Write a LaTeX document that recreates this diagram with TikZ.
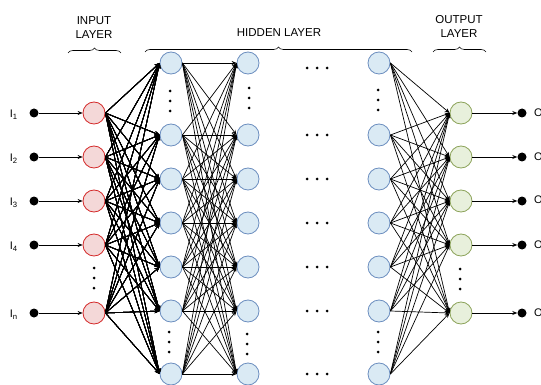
\documentclass[tikz,border=0pt]{standalone}
\usepackage{fontspec}
\setmainfont{Liberation Sans}
\usepackage{tikz}
\usetikzlibrary{arrows.meta,decorations.pathreplacing}
\definecolor{inBorder}{HTML}{D42A2A}
\definecolor{inFill}{HTML}{F4D8D8}
\definecolor{hidBorder}{HTML}{6C8EBF}
\definecolor{hidFill}{HTML}{DAEAF4}
\definecolor{outBorder}{HTML}{8CA35A}
\definecolor{outFill}{HTML}{E8F0DC}
\tikzset{
  neuron/.style = {circle, inner sep=0pt, minimum size=22pt,
    line width=0.8pt},
  n_in/.style = {neuron, draw=inBorder, fill=inFill},% input neuron
  n_hid/.style = {neuron, draw=hidBorder, fill=hidFill},% hidden neuron
  n_out/.style = {neuron, draw=outBorder, fill=outFill},% output neuron
  term/.style = {circle, fill=black, inner sep=0pt, minimum size=9pt},
  wire/.style = {-{Stealth[length=5pt,width=4pt]}, line width=0.7pt},
  layerbrace/.style = {decorate, line width=0.6pt,
    decoration={brace, amplitude=5pt}},
  caption/.style = {font=\fontsize{11.5}{14}\selectfont, align=center}
}
\newcommand{\vdotsat}[2]{% three dots, top one at (#1,#2)
  \foreach \k in {0,10,20} \fill (#1,#2+\k) circle (1.5);}
\newcommand{\hdotsat}[1]{% three dots between hidden layers
  \foreach \k in {307,317,327} \fill (\k,#1) circle (1.5);}

\begin{document}
\begin{tikzpicture}[x=1pt, y=-1pt]
  \useasboundingbox (0,0) rectangle (541,385);
  % input and output layers
  \foreach \y [count=\i] in {113,157,201,245,313} {
    \node [n_in] (in\i) at (94,\y) {};
    \node [term] (x\i) at (34,\y) {};
    \node [n_out] (out\i) at (461,\y) {};
    \node [term] (y\i) at (522,\y) {};
  }
  \foreach \i/\s in {1/1,2/2,3/3,4/4,5/n} {
    \node [anchor=east, font=\fontsize{11}{13}\selectfont] (xl\i)
      at ([xshift=-8pt,yshift=-1.5pt]x\i.west) {I\textsubscript{\s}};
    \node [anchor=west, font=\fontsize{11}{13}\selectfont] (yl\i)
      at ([xshift=4pt]y\i.east) {O\textsubscript{\s}};
    \draw [wire] (x\i) -- (in\i.west);
    \draw [wire] (out\i.east) -- (y\i);
  }
  % hidden layers
  \foreach \y [count=\j] in {63,135,179,223,267,311,374} {
    \node [n_hid] (ha\j) at (171,\y) {};
    \node [n_hid] (hb\j) at (248,\y) {};
    \node [n_hid] (hc\j) at (379,\y) {};
  }
  \foreach \y in {68,135,179,223,267,311,374} \hdotsat{\y}
  % connections
  \foreach \i in {1,...,5}
    \foreach \j in {1,...,7}
      \draw [wire] (in\i.east) -- (ha\j.west);
  \foreach \i in {1,...,7}
    \foreach \j in {1,...,7}
      \draw [wire] (ha\i.east) -- (hb\j.west);
  \foreach \i in {1,...,7}
    \foreach \j in {1,...,5}
      \draw [wire] (hc\i.east) -- (out\j.west);
  % skipped neurons
  \vdotsat{94}{268}
  \vdotsat{460}{269}
  \vdotsat{170}{91}
  \vdotsat{249}{88}
  \vdotsat{378}{90}
  \vdotsat{169}{332}
  \vdotsat{247}{334}
  \vdotsat{378}{332}
  % layer captions
  \node [caption] (capIn) at (94,28) {INPUT\\LAYER};
  \node [caption] (capHid) at (279,33) {HIDDEN LAYER};
  \node [caption] (capOut) at (459,26) {OUTPUT\\LAYER};
  \draw [layerbrace] (68,53) -- (121,53);
  \draw [layerbrace] (145,52) -- (412,52);
  \draw [layerbrace] (433,52) -- (486,52);
\end{tikzpicture}
\end{document}
